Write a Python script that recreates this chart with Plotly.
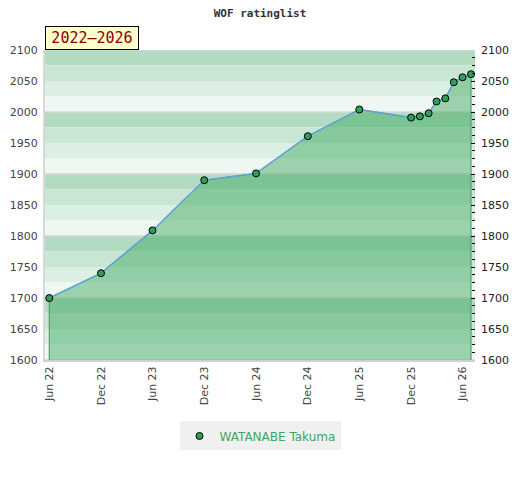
import plotly.graph_objects as go

# rating history
dates = ["2022-06-01", "2022-12-01", "2023-06-01", "2023-12-01", "2024-06-01",
         "2024-12-01", "2025-06-01", "2025-12-01", "2026-01-01", "2026-02-01",
         "2026-03-01", "2026-04-01", "2026-05-01", "2026-06-01", "2026-07-01"]
ratings = [1700, 1740, 1809, 1890, 1901, 1961, 2004, 1991, 1993, 1998,
           2017, 2022, 2048, 2056, 2061]
player = "WATANABE Takuma"
period = "2022\u20132026"

y_min, y_max = 1600, 2100
band_colors = ["#b2dbc2", "#c8e6d3", "#dcefe3", "#eef7f1"]

fig = go.Figure()

# area under the curve, closed down to the axis floor
fig.add_trace(go.Scatter(
    x=[dates[0]] + dates + [dates[-1]],
    y=[y_min] + ratings + [y_min],
    fill="toself", fillcolor="rgba(64,169,98,0.48)",
    mode="lines", line=dict(color="#3a9c5a", width=1),
    hoverinfo="skip", showlegend=False))

fig.add_trace(go.Scatter(
    x=dates, y=ratings, mode="lines",
    line=dict(color="#5fa3db", width=1.5),
    hoverinfo="skip", showlegend=False))

fig.add_trace(go.Scatter(
    x=dates, y=ratings, mode="markers", name=player,
    marker=dict(color="#2e9e5b", size=7, line=dict(color="black", width=1))))

# invisible trace for the right-hand axis
fig.add_trace(go.Scatter(x=[dates[0]], y=[ratings[0]], yaxis="y2",
                         mode="markers", marker=dict(opacity=0),
                         hoverinfo="skip", showlegend=False))

shapes = []
for i, lo in enumerate(range(y_max - 25, y_min - 1, -25)):
    shapes.append(dict(type="rect", xref="paper", yref="y", x0=0, x1=1,
                       y0=lo, y1=lo + 25, fillcolor=band_colors[i % 4],
                       line=dict(width=0), layer="below"))
for v in range(y_min, y_max + 1, 100):
    shapes.append(dict(type="line", xref="paper", yref="y", x0=0, x1=1,
                       y0=v, y1=v, line=dict(color="#d6d6d6", width=1.5),
                       layer="below"))

tick_font = dict(family="DejaVu Sans", size=11, color="#444")

# page body adds 8px, so margins are trimmed to keep the plot in place
fig.update_layout(
    width=520, height=480,
    margin=dict(l=37, r=53, t=42, b=128),
    paper_bgcolor="white", plot_bgcolor="white",
    title=dict(text="<b>WOF ratinglist</b>", x=0.5, xanchor="center",
               xref="paper", y=0.99, yanchor="middle",
               font=dict(family="DejaVu Sans Mono", size=11, color="#333")),
    xaxis=dict(type="date", range=["2022-05-17", "2026-07-15"],
               tick0="2022-06-01", dtick="M6", tickformat="%b %y",
               tickangle=-90, tickfont=tick_font, showgrid=False,
               zeroline=False, showline=True, linecolor="#d0d0d0",
               linewidth=2, ticks="", automargin=False),
    yaxis=dict(range=[y_min, y_max], dtick=50, tickfont=tick_font,
               showgrid=False, zeroline=False, showline=True,
               linecolor="#d8d8d8", linewidth=2, ticks="",
               ticklabelstandoff=3, automargin=False),
    yaxis2=dict(range=[y_min, y_max], dtick=50, overlaying="y", side="right",
                tickfont=dict(family="DejaVu Sans", size=11, color="#222"),
                showgrid=False, zeroline=False, ticks="inside", ticklen=4,
                tickcolor="black", ticklabelstandoff=5, automargin=False,
                minor=dict(dtick=12.5, ticks="inside", ticklen=3,
                           tickcolor="black")),
    shapes=shapes,
    showlegend=True,
    legend=dict(orientation="h", x=0.5, xanchor="center", y=-0.245,
                yanchor="middle", bgcolor="#f0f0f0",
                font=dict(family="DejaVu Sans", size=12, color="#3aa860")),
    annotations=[dict(text=period, xref="paper", yref="paper", x=0, y=1,
                      xanchor="left", yanchor="bottom", showarrow=False,
                      width=90, height=20,
                      bgcolor="#ffffcc", bordercolor="black", borderwidth=1,
                      borderpad=1,
                      font=dict(family="DejaVu Sans Mono", size=15,
                                color="#8b0000"))],
)

fig.write_html("out.html")
